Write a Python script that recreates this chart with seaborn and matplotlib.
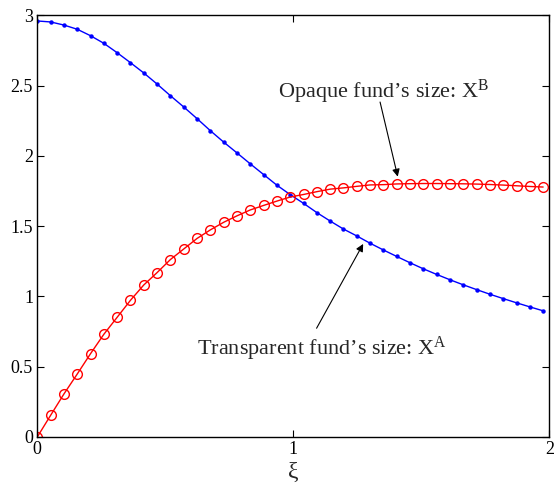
import matplotlib
matplotlib.use('Agg')
import matplotlib.pyplot as plt
import seaborn as sns

# ========================================
# Data
# ========================================
xi = [0.000, 0.052, 0.104, 0.156, 0.208, 0.260, 0.312, 0.364, 0.416, 0.468,
      0.520, 0.572, 0.624, 0.676, 0.728, 0.780, 0.832, 0.884, 0.936, 0.988,
      1.040, 1.092, 1.144, 1.196, 1.248, 1.300, 1.352, 1.404, 1.456, 1.508,
      1.560, 1.612, 1.664, 1.716, 1.768, 1.820, 1.872, 1.924, 1.976]

size_A = [2.961, 2.954, 2.932, 2.902, 2.856, 2.802, 2.735, 2.664, 2.591, 2.512,
          2.429, 2.349, 2.266, 2.180, 2.099, 2.022, 1.944, 1.868, 1.792, 1.725,
          1.663, 1.597, 1.537, 1.480, 1.431, 1.379, 1.331, 1.285, 1.240, 1.197,
          1.157, 1.119, 1.083, 1.049, 1.016, 0.985, 0.955, 0.926, 0.898]

size_B = [0.000, 0.154, 0.306, 0.448, 0.593, 0.731, 0.852, 0.973, 1.082, 1.170,
          1.263, 1.338, 1.413, 1.474, 1.528, 1.574, 1.616, 1.648, 1.679, 1.708,
          1.726, 1.746, 1.764, 1.773, 1.784, 1.794, 1.796, 1.801, 1.803, 1.804,
          1.804, 1.803, 1.802, 1.800, 1.797, 1.793, 1.788, 1.783, 1.779]

x_ticks = [0, 1, 2]
y_ticks = [0, 0.5, 1, 1.5, 2, 2.5, 3]
y_tick_labels = ['0', '0.5', '1', '1.5', '2', '2.5', '3']

label_B = 'Opaque fund\u2019s size: X$^{\\mathrm{B}}$'
label_A = 'Transparent fund\u2019s size: X$^{\\mathrm{A}}$'

# ========================================
# Style
# ========================================
sns.set_style('ticks')
plt.rcParams['font.family'] = ['Liberation Serif', 'DejaVu Serif']
plt.rcParams['mathtext.fontset'] = 'custom'
plt.rcParams['mathtext.rm'] = 'Liberation Serif'
plt.rcParams['mathtext.it'] = 'Liberation Serif:italic'

fig = plt.figure(figsize=(5.54, 4.87), dpi=100)
ax = fig.add_axes([0.0673, 0.1027, 0.9242, 0.8655])

sns.lineplot(x=xi, y=size_A, ax=ax, color='#0000ff', linewidth=1.0,
             marker='o', markersize=3.2, markeredgewidth=0, estimator=None)
sns.lineplot(x=xi, y=size_B, ax=ax, color='#ff0000', linewidth=1.0,
             marker='o', markersize=7, markerfacecolor='none',
             markeredgecolor='#ff0000', markeredgewidth=1.0, estimator=None)

ax.set_xlim(0, 2)
ax.set_ylim(0, 3)
ax.set_xticks(x_ticks)
ax.set_xticklabels([str(t) for t in x_ticks])
ax.set_yticks(y_ticks)
ax.set_yticklabels(y_tick_labels)
ax.tick_params(direction='in', top=True, right=True, length=5, width=0.8,
               labelsize=13, colors='black', pad=3)
for s in ax.spines.values():
    s.set_visible(True)
    s.set_linewidth(1.0)
    s.set_color('black')

ax.set_xlabel('\u03be', fontsize=17, labelpad=3)
ax.set_ylabel('')

# Аннотации со стрелками
arrow = dict(arrowstyle='-|>', color='black', lw=0.8, mutation_scale=11,
             shrinkA=0, shrinkB=0)
ax.annotate('', xy=(1.408, 1.853), xytext=(1.339, 2.384), arrowprops=arrow)
ax.text(0.940, 2.413, label_B, fontsize=16, ha='left', va='baseline')
ax.annotate('', xy=(1.273, 1.374), xytext=(1.091, 0.774), arrowprops=arrow)
ax.text(0.623, 0.584, label_A, fontsize=16, ha='left', va='baseline')

fig.savefig('out.png', dpi=100)
